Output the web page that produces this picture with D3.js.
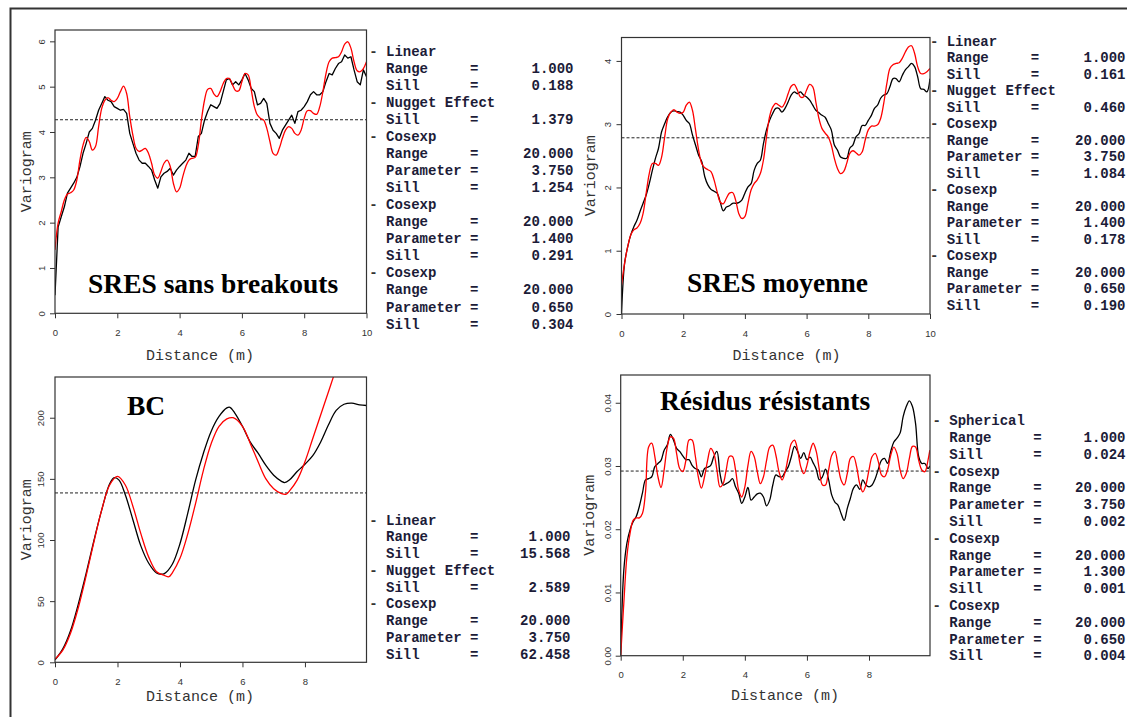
<!DOCTYPE html>
<html><head><meta charset="utf-8">
<script src="https://cdn.jsdelivr.net/npm/d3@7"></script>
<style>body{margin:0;background:#fff;overflow:hidden}</style>
</head><body>
<script>
// ---------- DATA ----------
const lags10 = [0,0.1,0.2,0.3,0.4,0.5,0.6,0.7,0.8,0.9,1,1.1,1.2,1.3,1.4,1.5,1.6,1.7,1.8,1.9,2,2.1,2.2,2.3,2.4,2.5,2.6,2.7,2.8,2.9,3,3.1,3.2,3.3,3.4,3.5,3.6,3.7,3.8,3.9,4,4.1,4.2,4.3,4.4,4.5,4.6,4.7,4.8,4.9,5,5.1,5.2,5.3,5.4,5.5,5.6,5.7,5.8,5.9,6,6.1,6.2,6.3,6.4,6.5,6.6,6.7,6.8,6.9,7,7.1,7.2,7.3,7.4,7.5,7.6,7.7,7.8,7.9,8,8.1,8.2,8.3,8.4,8.5,8.6,8.7,8.8,8.9,9,9.1,9.2,9.3,9.4,9.5,9.6,9.7,9.8,9.9,10];
const lagsRes = [0,0.1,0.2,0.3,0.4,0.5,0.6,0.7,0.8,0.9,1,1.1,1.2,1.3,1.4,1.5,1.6,1.7,1.8,1.9,2,2.1,2.2,2.3,2.4,2.5,2.6,2.7,2.8,2.9,3,3.1,3.2,3.3,3.4,3.5,3.6,3.7,3.8,3.9,4,4.1,4.2,4.3,4.4,4.5,4.6,4.7,4.8,4.9,5,5.1,5.2,5.3,5.4,5.5,5.6,5.7,5.8,5.9,6,6.1,6.2,6.3,6.4,6.5,6.6,6.7,6.8,6.9,7,7.1,7.2,7.3,7.4,7.5,7.6,7.7,7.8,7.9,8,8.1,8.2,8.3,8.4,8.5,8.6,8.7,8.8,8.9,9,9.1,9.2,9.3,9.4,9.5,9.6,9.7,9.8,9.9,9.96];

// Panel 1: SRES sans breakouts
const sresSansExp = [0.4,1.9,2.13,2.35,2.65,2.76,2.87,3.0,3.23,3.53,
 3.75,4.0,4.08,4.26,4.48,4.63,4.78,4.7,4.67,4.56,
 4.52,4.48,4.5,4.41,3.97,3.75,3.53,3.38,3.31,3.31,
 3.24,3.16,2.94,2.76,3.01,3.09,3.13,3.2,3.05,3.16,
 3.24,3.31,3.38,3.53,3.46,3.46,3.9,3.97,4.26,4.45,
 4.6,4.56,4.52,4.63,4.89,5.15,5.18,5.04,5.11,5.04,
 5.15,5.29,5.15,4.96,4.89,4.6,4.63,4.74,4.63,4.19,
 4.04,3.97,3.86,4.04,4.15,4.26,4.37,4.19,4.45,4.48,
 4.56,4.67,4.82,4.89,4.82,4.82,4.89,5.11,5.29,5.26,
 5.4,5.51,5.55,5.7,5.63,5.66,5.37,5.11,5.04,5.37,5.22];
const sresSansModel = [1.4,1.99,2.24,2.5,2.63,2.66,2.72,2.94,3.38,3.71,
 3.88,3.79,3.6,3.68,4.12,4.52,4.7,4.76,4.7,4.67,
 4.74,4.89,5.01,4.85,4.34,3.93,3.64,3.57,3.6,3.64,
 3.53,3.31,3.05,2.98,3.13,3.31,3.38,3.24,2.87,2.68,
 2.76,3.01,3.24,3.38,3.42,3.44,3.71,4.26,4.7,4.94,
 4.96,4.84,4.78,4.89,5.07,5.18,5.18,5.04,4.91,4.91,
 5.11,5.29,5.26,4.93,4.56,4.37,4.3,4.26,4.08,3.79,
 3.53,3.49,3.64,3.86,4.04,4.12,4.08,3.97,3.93,4.04,
 4.3,4.47,4.47,4.41,4.39,4.56,4.89,5.29,5.55,5.63,
 5.64,5.66,5.77,5.94,5.99,5.85,5.55,5.35,5.33,5.4,5.55];
const sresSansSill = 4.27;

// Panel 2: SRES moyenne
const sresMoyExp = [0,0.8,1.06,1.25,1.38,1.48,1.62,1.75,1.88,2.06,
 2.27,2.46,2.62,2.88,3.01,3.12,3.19,3.21,3.2,3.19,
 3.14,3.06,3.01,2.83,2.67,2.51,2.41,2.17,2.04,1.97,
 1.94,1.91,1.77,1.63,1.69,1.71,1.75,1.75,1.76,1.8,
 1.91,2.01,2.06,2.27,2.38,2.43,2.69,2.91,3.06,3.17,
 3.25,3.25,3.19,3.25,3.35,3.46,3.51,3.48,3.51,3.46,
 3.43,3.38,3.3,3.22,3.18,3.14,3.11,3.01,2.91,2.67,
 2.59,2.48,2.46,2.46,2.62,2.67,2.8,2.85,2.98,2.98,
 3.06,3.14,3.25,3.3,3.41,3.46,3.48,3.59,3.72,3.72,
 3.67,3.77,3.86,3.91,3.96,3.91,3.75,3.56,3.55,3.51,3.72];
const sresMoyModel = [0.46,0.8,1.06,1.25,1.33,1.36,1.43,1.59,1.91,2.22,
 2.38,2.38,2.35,2.48,2.8,3.09,3.19,3.23,3.19,3.17,
 3.19,3.3,3.35,3.22,2.91,2.59,2.38,2.31,2.28,2.25,
 2.12,1.93,1.77,1.74,1.83,1.91,1.92,1.8,1.59,1.51,
 1.54,1.75,1.96,2.06,2.12,2.22,2.43,2.8,3.12,3.27,
 3.33,3.3,3.27,3.34,3.48,3.6,3.63,3.54,3.43,3.43,
 3.54,3.63,3.59,3.35,3.09,2.93,2.86,2.8,2.67,2.46,
 2.3,2.22,2.25,2.38,2.54,2.58,2.55,2.51,2.56,2.75,
 2.91,2.97,2.97,2.99,3.09,3.33,3.64,3.88,3.94,3.96,
 3.97,4.04,4.14,4.22,4.24,4.12,3.91,3.8,3.8,3.83,3.88];
const sresMoySill = 2.785;

// Panel 3: BC
const bcExpLags = [0,0.25,0.5,0.75,1,1.25,1.5,1.75,1.9,2.05,2.25,2.5,2.75,3,3.25,3.4,3.5,3.75,4,4.25,4.5,4.75,5,5.25,5.5,5.6,5.75,6,6.25,6.5,6.75,7,7.25,7.35,7.5,7.75,8,8.25,8.5,8.75,9,9.25,9.5,9.75,9.97];
const bcExp = [2,11,26,48,73,100,125,146,151,149,137,116,95,81,73,72,72.5,80,97,122,149,171,189,201,208,208.5,204,193,180,171,161,153,148,147,149,156,162,169,180,194,206,211,212,210.5,210];
const bcModelLags = [0,0.25,0.5,0.75,1,1.25,1.5,1.75,2,2.25,2.5,2.75,3,3.25,3.5,3.65,3.75,4,4.25,4.5,4.75,5,5.25,5.5,5.7,6,6.25,6.5,6.75,7,7.25,7.4,7.5,7.75,8,8.25,8.5,8.75,9,9.25];
const bcModel = [2.6,10,24,45,71,99,125,145,152,145,127,105,86,74,71,70,73,85,105,130,157,179,193,199,200,193,179,164,150,142,138,137.5,140,149,164,183,202,221,240,257];
const bcSill = 138.5;

// Panel 4: Résidus résistants
const resExp = [0,0.0135,0.0178,0.0199,0.0212,0.022,0.0236,0.0257,0.0278,0.028,
 0.0283,0.0299,0.0304,0.0309,0.0325,0.0333,0.035,0.0341,0.0328,0.0323,
 0.0316,0.031,0.031,0.0301,0.0296,0.0294,0.0283,0.0296,0.0298,0.0301,
 0.0315,0.0323,0.0288,0.027,0.0272,0.0275,0.028,0.0267,0.0257,0.0241,
 0.0251,0.0266,0.0246,0.0251,0.0256,0.0257,0.0251,0.0237,0.0246,0.027,
 0.0286,0.0283,0.0283,0.0291,0.0299,0.0315,0.0331,0.0323,0.0312,0.0321,
 0.031,0.0314,0.0305,0.0295,0.0278,0.0283,0.0295,0.0278,0.0254,0.0243,
 0.0238,0.0225,0.0214,0.0233,0.0249,0.0265,0.027,0.0263,0.0278,0.027,
 0.0267,0.027,0.028,0.0295,0.0309,0.0312,0.0304,0.0323,0.0338,0.0344,
 0.0352,0.0378,0.0394,0.0403,0.0394,0.0367,0.0315,0.0304,0.0304,0.0296,0.03];
const resModel = [0,0.0083,0.0157,0.0193,0.0214,0.0218,0.0218,0.0225,0.0259,0.033,
 0.0336,0.0315,0.0283,0.0266,0.0294,0.033,0.0346,0.0344,0.032,0.0296,
 0.0291,0.0309,0.0341,0.0341,0.0317,0.0283,0.0265,0.0283,0.0309,0.0328,
 0.032,0.0294,0.0267,0.0272,0.0294,0.0315,0.0315,0.0294,0.0262,0.0251,
 0.0267,0.0301,0.0323,0.0315,0.0291,0.0272,0.0283,0.0309,0.033,0.0333,
 0.0317,0.0291,0.0278,0.0291,0.0315,0.0336,0.0341,0.0325,0.0299,0.0288,
 0.0301,0.0323,0.0336,0.0323,0.0294,0.027,0.027,0.0294,0.0317,0.0323,
 0.0301,0.0278,0.027,0.0288,0.0312,0.0315,0.0299,0.0272,0.0259,0.027,
 0.0294,0.0315,0.032,0.0307,0.0286,0.0283,0.0294,0.0317,0.033,0.032,
 0.0294,0.028,0.0288,0.0312,0.0331,0.033,0.0309,0.0294,0.0291,0.0309,0.0325];
const resSill = 0.0292;

// Tick values
const xTicks10 = [0,2,4,6,8,10];
const xTicks8 = [0,2,4,6,8];
const yTicksSans = [0,1,2,3,4,5,6];
const yTicksMoy = [0,1,2,3,4];
const yTicksBC = [0,50,100,150,200];
const yTicksRes = [0,0.01,0.02,0.03,0.04];

// Model legends
const legendSans = [["Linear"],["Range","1.000"],["Sill","0.188"],["Nugget Effect"],["Sill","1.379"],
 ["Cosexp"],["Range","20.000"],["Parameter","3.750"],["Sill","1.254"],
 ["Cosexp"],["Range","20.000"],["Parameter","1.400"],["Sill","0.291"],
 ["Cosexp"],["Range","20.000"],["Parameter","0.650"],["Sill","0.304"]];
const legendMoy = [["Linear"],["Range","1.000"],["Sill","0.161"],["Nugget Effect"],["Sill","0.460"],
 ["Cosexp"],["Range","20.000"],["Parameter","3.750"],["Sill","1.084"],
 ["Cosexp"],["Range","20.000"],["Parameter","1.400"],["Sill","0.178"],
 ["Cosexp"],["Range","20.000"],["Parameter","0.650"],["Sill","0.190"]];
const legendBC = [["Linear"],["Range","1.000"],["Sill","15.568"],["Nugget Effect"],["Sill","2.589"],
 ["Cosexp"],["Range","20.000"],["Parameter","3.750"],["Sill","62.458"]];
const legendRes = [["Spherical"],["Range","1.000"],["Sill","0.024"],
 ["Cosexp"],["Range","20.000"],["Parameter","3.750"],["Sill","0.002"],
 ["Cosexp"],["Range","20.000"],["Parameter","1.300"],["Sill","0.001"],
 ["Cosexp"],["Range","20.000"],["Parameter","0.650"],["Sill","0.004"]];

// ---------- DRAW ----------
const W = 1127, H = 717;
const svg = d3.select("body").append("svg").attr("width", W).attr("height", H);
svg.append("rect").attr("width", W).attr("height", H).attr("fill", "#fff");
svg.append("path").attr("d", "M10.5,717 V8.5 H1127").attr("fill", "none")
  .attr("stroke", "#333").attr("stroke-width", 2);

const panels = [
 {id:"p1", box:{l:55,r:366.5,t:30,b:313.3}, xd:[0,10], yd:[0,6.25], xt:xTicks10, yt:yTicksSans, yfmt:d3.format("d"),
  exp:{x:lags10,y:sresSansExp,curve:d3.curveLinear}, mod:{x:lags10,y:sresSansModel}, sill:sresSansSill,
  title:{t:"SRES sans breakouts",x:88,y:292.5}, xlab:{x:200,y:359.5}, ylabX:31, ytickX:44.5,
  leg:{rows:legendSans,lx:386,vr:573.5,y0:51.7,dy:17.02}},
 {id:"p2", box:{l:621.5,r:930,t:37.5,b:314}, xd:[0,10], yd:[0,4.37], xt:xTicks10, yt:yTicksMoy, yfmt:d3.format("d"),
  exp:{x:lags10,y:sresMoyExp,curve:d3.curveCatmullRom}, mod:{x:lags10,y:sresMoyModel}, sill:sresMoySill,
  title:{t:"SRES moyenne",x:687,y:291.7}, xlab:{x:786.5,y:360}, ylabX:594.5, ytickX:610.5,
  leg:{rows:legendMoy,lx:946.7,vr:1125.5,y0:41,dy:16.5}},
 {id:"p3", box:{l:55,r:366.5,t:377,b:662.3}, xd:[0,9.97], yd:[0,233.3], xt:xTicks8, yt:yTicksBC, yfmt:d3.format("d"),
  exp:{x:bcExpLags,y:bcExp,curve:d3.curveCatmullRom}, mod:{x:bcModelLags,y:bcModel}, sill:bcSill,
  title:{t:"BC",x:127,y:415}, xlab:{x:200,y:701}, ylabX:31, ytickX:44,
  leg:{rows:legendBC,lx:386,vr:570.5,y0:520,dy:16.75}},
 {id:"p4", box:{l:620.7,r:930,t:375,b:655.7}, xd:[0,9.965], yd:[0,0.04439], xt:xTicks8, yt:yTicksRes, yfmt:d3.format(".2f"),
  exp:{x:lagsRes,y:resExp,curve:d3.curveCatmullRom}, mod:{x:lagsRes,y:resModel}, sill:resSill,
  title:{t:"Résidus résistants",x:660,y:410}, xlab:{x:785,y:699.5}, ylabX:594, ytickX:610.5,
  leg:{rows:legendRes,lx:949.3,vr:1125.5,y0:420.7,dy:16.8}}
];

const gray = "#333";
panels.forEach(p => {
  const g = svg.append("g");
  const x = d3.scaleLinear().domain(p.xd).range([p.box.l, p.box.r]);
  const y = d3.scaleLinear().domain(p.yd).range([p.box.b, p.box.t]);

  g.append("clipPath").attr("id", "clip-" + p.id).append("rect")
    .attr("x", p.box.l).attr("y", p.box.t).attr("width", p.box.r - p.box.l).attr("height", p.box.b - p.box.t);

  const xa = g.append("g").attr("transform", `translate(0,${p.box.b})`)
    .call(d3.axisBottom(x).tickValues(p.xt).tickSize(5).tickFormat(d3.format("d")));
  xa.select(".domain").remove();
  xa.selectAll("line").attr("stroke", gray);
  xa.selectAll("text").attr("y", 0).attr("dy", null).attr("transform", "translate(0,22.5)")
    .style("font-family", "'Liberation Sans', Arial, sans-serif").style("font-size", "9.5px").attr("fill", gray);

  const ya = g.append("g").attr("transform", `translate(${p.box.l},0)`)
    .call(d3.axisLeft(y).tickValues(p.yt).tickSize(5).tickFormat(p.yfmt));
  ya.select(".domain").remove();
  ya.selectAll("line").attr("stroke", gray);
  ya.selectAll("text").attr("x", null).attr("dy", null)
    .attr("transform", `translate(${p.ytickX - p.box.l},0) rotate(-90)`)
    .attr("text-anchor", "middle")
    .style("font-family", "'Liberation Sans', Arial, sans-serif").style("font-size", "9.5px").attr("fill", gray);

  g.append("line").attr("x1", p.box.l).attr("x2", p.box.r)
    .attr("y1", y(p.sill)).attr("y2", y(p.sill))
    .attr("stroke", "#222").attr("stroke-width", 1).attr("stroke-dasharray", "3,2");

  const cg = g.append("g").attr("clip-path", `url(#clip-${p.id})`);
  const expPts = p.exp.x.map((d, i) => [d, p.exp.y[i]]);
  const modPts = p.mod.x.map((d, i) => [d, p.mod.y[i]]);
  cg.append("path").attr("d", d3.line().x(d => x(d[0])).y(d => y(d[1])).curve(p.exp.curve)(expPts))
    .attr("fill", "none").attr("stroke", "#000").attr("stroke-width", 1.3).attr("stroke-linejoin", "round");
  cg.append("path").attr("d", d3.line().x(d => x(d[0])).y(d => y(d[1])).curve(d3.curveCatmullRom)(modPts))
    .attr("fill", "none").attr("stroke", "#ff0000").attr("stroke-width", 1.3).attr("stroke-linejoin", "round");

  g.append("rect").attr("x", p.box.l).attr("y", p.box.t)
    .attr("width", p.box.r - p.box.l).attr("height", p.box.b - p.box.t)
    .attr("fill", "none").attr("stroke", gray).attr("stroke-width", 1.2);

  g.append("text").text(p.title.t).attr("x", p.title.x).attr("y", p.title.y)
    .style("font-family", "'Liberation Serif', 'Times New Roman', serif").style("font-weight", "bold")
    .style("font-size", "27.5px").attr("fill", "#000");

  g.append("text").text("Distance (m)").attr("x", p.xlab.x).attr("y", p.xlab.y).attr("text-anchor", "middle")
    .style("font-family", "'Liberation Mono', 'Courier New', monospace").style("font-size", "15px").attr("fill", gray);
  g.append("text").text("Variogram").attr("text-anchor", "middle")
    .attr("transform", `translate(${p.ylabX},${(p.box.t + p.box.b) / 2}) rotate(-90)`)
    .style("font-family", "'Liberation Mono', 'Courier New', monospace").style("font-size", "15px").attr("fill", gray);

  const lg = g.append("g").style("font-family", "'Liberation Mono', 'Courier New', monospace")
    .style("font-size", "14px").style("font-weight", "bold").attr("fill", "#1c1c38");
  p.leg.rows.forEach((row, i) => {
    const yy = p.leg.y0 + i * p.leg.dy + 4.5;
    if (row.length === 1) {
      lg.append("text").text("-").attr("x", p.leg.lx - 12.6).attr("y", yy).attr("text-anchor", "middle").attr("fill", "#333");
      lg.append("text").text(row[0]).attr("x", p.leg.lx).attr("y", yy);
    } else {
      lg.append("text").text(row[0]).attr("x", p.leg.lx).attr("y", yy);
      lg.append("text").text("=").attr("x", p.leg.lx + 84).attr("y", yy);
      lg.append("text").text(row[1]).attr("x", p.leg.vr).attr("y", yy).attr("text-anchor", "end");
    }
  });
});
</script>
</body></html>
